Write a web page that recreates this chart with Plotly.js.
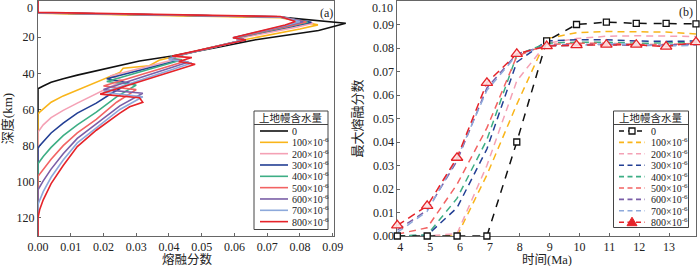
<!DOCTYPE html>
<html><head><meta charset="utf-8">
<script src="https://cdn.plot.ly/plotly-3.0.1.min.js"></script>
<style>html,body{margin:0;padding:0;background:#fff}</style>
</head><body><div id="chart" style="width:700px;height:266px"></div>
<script>
// ---------------- DATA ----------------
const waterContents = ['0','100','200','300','400','500','600','700','800'];
const legendTitle = '上地幔含水量';
const colors = ['#111111','#F9B51A','#F4A1B5','#233F94','#3DAE85','#F26363','#7A5EA7','#8DA9DB','#E52329'];
const titleA_x = '熔融分数', titleA_y = '深度(km)';
const titleB_x = '时间(Ma)', titleB_y = '最大熔融分数';
const depthTicks = [0,20,40,60,80,100,120];
const meltTicks = [0,0.01,0.02,0.03,0.04,0.05,0.06,0.07,0.08,0.09];
const timeTicks = [4,5,6,7,8,9,10,11,12,13];
const maxTicks = [0,0.01,0.02,0.03,0.04,0.05,0.06,0.07,0.08,0.09,0.10];

// (a) melt fraction vs depth (km)
const melt0 = [0,0,0.074,0.094,0.0857,0.0665,0.055,0.047,0.041,0.031,0.024,0.0178,0.012,0.0077,0.004,0.0016,0.0005,0,0];
const depth0 = [0,6.6,8.9,12.3,16.3,21.4,25.5,28.5,30.4,33.2,36,38.5,41,43,45,47,48,48.5,130];
const melt100 = [0,0,0.074,0.0855,0.080,0.0635,0.052,0.044,0.037,0.034,0.026,0.025,0.021,0.0178,0.012,0.0077,0.004,0.0016,0.0005,0,0];
const depth100 = [0,6.8,9.2,13.2,15.5,21.3,26,29.5,32.8,35.8,37.2,39.5,42.5,45,49,52.5,56,59.5,61.5,62.5,130];
const melt200 = [0,0,0.074,0.084,0.079,0.0615,0.063,0.051,0.043,0.040,0.0415,0.022,0.026,0.022,0.0178,0.012,0.0077,0.004,0.0016,0.0005,0,0];
const depth200 = [0,6.5,8.8,12.3,14.5,20.6,21.4,26.5,30,31.5,32.5,41.5,44,47.5,51.5,56.5,60.5,64.5,68.5,71,72.5,130];
const melt300 = [0,0,0.074,0.0835,0.078,0.060,0.0635,0.051,0.043,0.040,0.043,0.021,0.028,0.023,0.0178,0.012,0.0077,0.004,0.0016,0.0005,0,0];
const depth300 = [0,6.5,8.8,11.8,14,20.4,21.5,26.5,30,31.5,32.8,43,45.5,50.5,56.5,62,67.5,73,77.5,80,81.5,130];
const melt400 = [0,0,0.074,0.0825,0.077,0.060,0.063,0.051,0.043,0.040,0.044,0.021,0.030,0.024,0.0178,0.012,0.0077,0.004,0.0016,0.0005,0,0];
const depth400 = [0,6.5,8.8,11.8,14,20.4,21.5,26.5,30,31.5,32.5,44.5,46.5,53,61.5,68.5,74.5,81,86,88.5,90,130];
const melt500 = [0,0,0.074,0.082,0.077,0.0598,0.063,0.051,0.043,0.040,0.045,0.020,0.030,0.024,0.0178,0.012,0.0077,0.004,0.0016,0.0005,0,0];
const depth500 = [0,6.5,8.8,11.6,13.8,20.3,21.5,26.5,30,31.8,33.3,47,49,56,65.5,73,80,87.5,93,95.5,97,130];
const melt600 = [0,0,0.074,0.081,0.076,0.0596,0.063,0.051,0.043,0.040,0.046,0.020,0.032,0.025,0.0178,0.012,0.0077,0.004,0.0016,0.0005,0,0];
const depth600 = [0,6.5,8.8,11.5,13.7,20.3,21.5,26.5,30,32,33.8,49,51,58,68,76,84.5,93,99.5,103,104.5,130];
const melt700 = [0,0,0.074,0.080,0.0755,0.0596,0.063,0.051,0.043,0.040,0.047,0.020,0.032,0.025,0.0178,0.012,0.0077,0.004,0.0016,0.0005,0,0];
const depth700 = [0,6.5,8.8,11.4,13.6,20.3,21.5,26.5,30,32.3,34.3,50.5,53,60,70,78.5,88,97.5,105.5,110,112.5,130];
const melt800 = [0,0,0.074,0.0786,0.0755,0.0595,0.0635,0.051,0.043,0.041,0.047,0.043,0.048,0.019,0.031,0.032,0.028,0.025,0.0178,0.012,0.0077,0.004,0.0016,0.0005,0,0];
const depth800 = [0,6.3,8.6,11.3,13.3,20.3,21.6,26.5,30,30.5,31.3,33.5,35,51.5,53.5,56,58.5,62,71.5,80.5,91,101,110,115.5,120,130];

// (b) maximum melt fraction vs time (Ma)
const time = [3.9,4.9,5.9,6.9,7.9,8.9,9.9,10.9,11.9,12.9,13.9];
const max0   = [0,0,0,0,0.040,0.083,0.090,0.091,0.0905,0.0905,0.0903];
const max100 = [0,0,0,0.026,0.056,0.084,0.0865,0.087,0.087,0.0868,0.086];
const max200 = [0,0,0.001,0.030,0.066,0.082,0.084,0.085,0.0852,0.085,0.0849];
const max300 = [0,0.0003,0.012,0.037,0.074,0.083,0.0835,0.0835,0.083,0.0828,0.083];
const max400 = [0,0.0005,0.016,0.041,0.077,0.082,0.0825,0.0825,0.082,0.082,0.0823];
const max500 = [0.0008,0.0035,0.022,0.046,0.0765,0.0815,0.082,0.082,0.0815,0.0815,0.082];
const max600 = [0.0025,0.011,0.032,0.063,0.0775,0.081,0.0815,0.0815,0.081,0.0812,0.0815];
const max700 = [0.0015,0.0105,0.033,0.062,0.077,0.081,0.081,0.0818,0.0815,0.0808,0.0812];
const max800 = [0.0045,0.0128,0.0333,0.0652,0.0775,0.0808,0.0812,0.0814,0.0814,0.0806,0.0825];

const meltSeries = [melt0,melt100,melt200,melt300,melt400,melt500,melt600,melt700,melt800];
const depthSeries = [depth0,depth100,depth200,depth300,depth400,depth500,depth600,depth700,depth800];
const maxSeries = [max0,max100,max200,max300,max400,max500,max600,max700,max800];

// ---------------- LAYOUT HELPERS ----------------
const ML = 38, MR = 4, MT = 1, MB = 30, WID = 700, HEI = 266;
const PW = WID - ML - MR, PH = HEI - MT - MB;
const X = px => (px - ML) / PW;
const Y = py => 1 - (py - MT) / PH;

const serif = 'Liberation Serif, Times New Roman, serif';
const cjk = 'Liberation Serif, Noto Sans CJK SC, sans-serif';
const txt = '#222';
const frame = '#666';

const aRight = X(334.3), aWide = X(352);
const aRange = 0.0905;
const aRangeWide = aRange * aWide / aRight;

const label = w => w === '0' ? '0' : w + '×10<sup>-6</sup>';

const traces = [];
// empty trace so that the framed axes of panel (a) are drawn
traces.push({x: [], y: [], xaxis: 'x', yaxis: 'y', mode: 'lines', showlegend: false});
// panel (a) - drawn on a wider invisible axis with the same scale so the spike is not clipped
meltSeries.forEach((m, i) => {
  traces.push({x: m, y: depthSeries[i], xaxis: 'x3', yaxis: 'y3', mode: 'lines',
    line: {color: colors[i], width: 1.6}, showlegend: false, hoverinfo: 'skip'});
});
// panel (b)
const orderB = [1,2,3,4,5,6,7,0,8];
orderB.forEach(i => {
  const t = {x: time, y: maxSeries[i], xaxis: 'x2', yaxis: 'y2', mode: 'lines',
    line: {color: colors[i], width: 1.5, dash: '7px,5px'}, showlegend: false, cliponaxis: false};
  if (i === 0) {
    t.mode = 'lines+markers';
    t.line.dash = '8px,7px';
    t.marker = {symbol: 'square', size: 6, color: '#fff', line: {color: '#111', width: 1.3}};
  }
  if (i === 8) {
    t.mode = 'lines+markers';
    t.line.dash = '8px,5px';
    t.marker = {symbol: 'triangle-up', size: 10, color: 'rgba(255,225,225,0.9)', line: {color: colors[8], width: 1.3}};
  }
  traces.push(t);
});

const axisBase = {showline: true, mirror: true, linecolor: frame, linewidth: 1, ticks: 'inside',
  ticklen: 3, tickcolor: frame, showgrid: false, zeroline: false, layer: 'below traces',
  tickfont: {family: serif, size: 12, color: txt}};

const shapes = [], annotations = [];
// legends
function legend(x0, x1, y0, y1, dashed) {
  shapes.push({type: 'rect', xref: 'paper', yref: 'paper', x0: X(x0), x1: X(x1), y0: Y(y1), y1: Y(y0),
    line: {color: '#444', width: 1}, fillcolor: 'rgba(255,255,255,1)', layer: 'above'});
  shapes.push({type: 'line', xref: 'paper', yref: 'paper', x0: X(x0), x1: X(x1), y0: Y(124.5), y1: Y(124.5),
    line: {color: '#444', width: 1}, layer: 'above'});
  annotations.push({xref: 'paper', yref: 'paper', x: X((x0 + x1) / 2), y: Y(117.5), text: legendTitle,
    showarrow: false, xanchor: 'center', yanchor: 'middle', font: {family: cjk, size: 10.5, color: txt}});
  const ls = dashed ? [x0 + 5.5, x0 + 31.5] : [x0 + 6, x0 + 34];
  const lx = dashed ? x0 + 35 : x0 + 35.5;
  waterContents.forEach((w, i) => {
    const yy = 131 + i * (dashed ? 11.4 : 11.33);
    shapes.push({type: 'line', xref: 'paper', yref: 'paper', x0: X(ls[0]), x1: X(ls[1]), y0: Y(yy), y1: Y(yy),
      line: {color: colors[i], width: 1.6, dash: dashed ? (i === 0 ? '5px,4px' : '5px,3.5px') : 'solid'}, layer: 'above'});
    if (dashed && i === 0) {
      const c = (ls[0] + ls[1]) / 2;
      shapes.push({type: 'rect', xref: 'paper', yref: 'paper', x0: X(c - 3), x1: X(c + 3), y0: Y(yy + 3), y1: Y(yy - 3),
        line: {color: '#111', width: 1.3}, fillcolor: '#fff', layer: 'above'});
    }
    if (dashed && i === 8) {
      const c = (ls[0] + ls[1]) / 2;
      shapes.push({type: 'path', xref: 'paper', yref: 'paper',
        path: `M ${X(c)} ${Y(yy - 5)} L ${X(c - 5)} ${Y(yy + 3.5)} L ${X(c + 5)} ${Y(yy + 3.5)} Z`,
        line: {color: colors[8], width: 1}, fillcolor: colors[8], layer: 'above'});
    }
    annotations.push({xref: 'paper', yref: 'paper', x: X(lx), y: Y(yy), text: label(w), showarrow: false,
      xanchor: 'left', yanchor: 'middle', font: {family: serif, size: 10, color: txt}});
  });
}
legend(254, 328, 111, 229.5, false);
legend(613.5, 688.5, 111, 227.5, true);

annotations.push({xref: 'paper', yref: 'paper', x: X(326.5), y: Y(12.5), text: '(a)', showarrow: false,
  xanchor: 'center', yanchor: 'middle', font: {family: serif, size: 12, color: txt}});
annotations.push({xref: 'paper', yref: 'paper', x: X(685.5), y: Y(11.5), text: '(b)', showarrow: false,
  xanchor: 'center', yanchor: 'middle', font: {family: serif, size: 12, color: txt}});
// x-axis titles (placed below the tick labels)
annotations.push({xref: 'paper', yref: 'paper', x: X(187), y: Y(259.5), text: titleA_x, showarrow: false,
  xanchor: 'center', yanchor: 'middle', font: {family: cjk, size: 12.5, color: txt}});
annotations.push({xref: 'paper', yref: 'paper', x: X(547), y: Y(259.5), text: titleB_x, showarrow: false,
  xanchor: 'center', yanchor: 'middle', font: {family: cjk, size: 12.5, color: txt}});
// top tick labels sit just inside the page edge, as in the original figure
annotations.push({xref: 'paper', yref: 'paper', x: X(34), y: Y(0), text: String(depthTicks[0]), showarrow: false,
  xanchor: 'right', yanchor: 'top', borderpad: 0, font: {family: serif, size: 12, color: txt}});
annotations.push({xref: 'paper', yref: 'paper', x: X(393.5), y: Y(0), text: maxTicks[maxTicks.length - 1].toFixed(2),
  showarrow: false, xanchor: 'right', yanchor: 'top', borderpad: 0, font: {family: serif, size: 12, color: txt}});

const layout = {
  width: WID, height: HEI, margin: {l: ML, r: MR, t: MT, b: MB},
  paper_bgcolor: '#fff', plot_bgcolor: 'rgba(0,0,0,0)', showlegend: false,
  xaxis: Object.assign({}, axisBase, {domain: [0, aRight], range: [0, aRange], anchor: 'y',
    tickvals: meltTicks, tickformat: '.2f'}),
  yaxis: Object.assign({}, axisBase, {domain: [0, 1], range: [130, 0], anchor: 'x',
    tickvals: depthTicks.slice(1),
    title: {text: titleA_y, font: {family: cjk, size: 13, color: txt}, standoff: 2}}),
  xaxis3: {domain: [0, aWide], range: [0, aRangeWide], anchor: 'y3', visible: false, fixedrange: true},
  yaxis3: {domain: [0, 1], range: [130, 0], anchor: 'x3', visible: false, fixedrange: true},
  xaxis2: Object.assign({}, axisBase, {domain: [X(397.3), 1], range: [3.9, 13.9], anchor: 'y2',
    tickvals: timeTicks}),
  yaxis2: Object.assign({}, axisBase, {domain: [0, 1], range: [0, 0.1], anchor: 'x2',
    tickvals: maxTicks.slice(0, -1), tickformat: '.2f',
    title: {text: titleB_y, font: {family: cjk, size: 13, color: txt}, standoff: 7}}),
  shapes: shapes, annotations: annotations
};

Plotly.newPlot('chart', traces, layout, {staticPlot: true, displayModeBar: false});
</script></body></html>
